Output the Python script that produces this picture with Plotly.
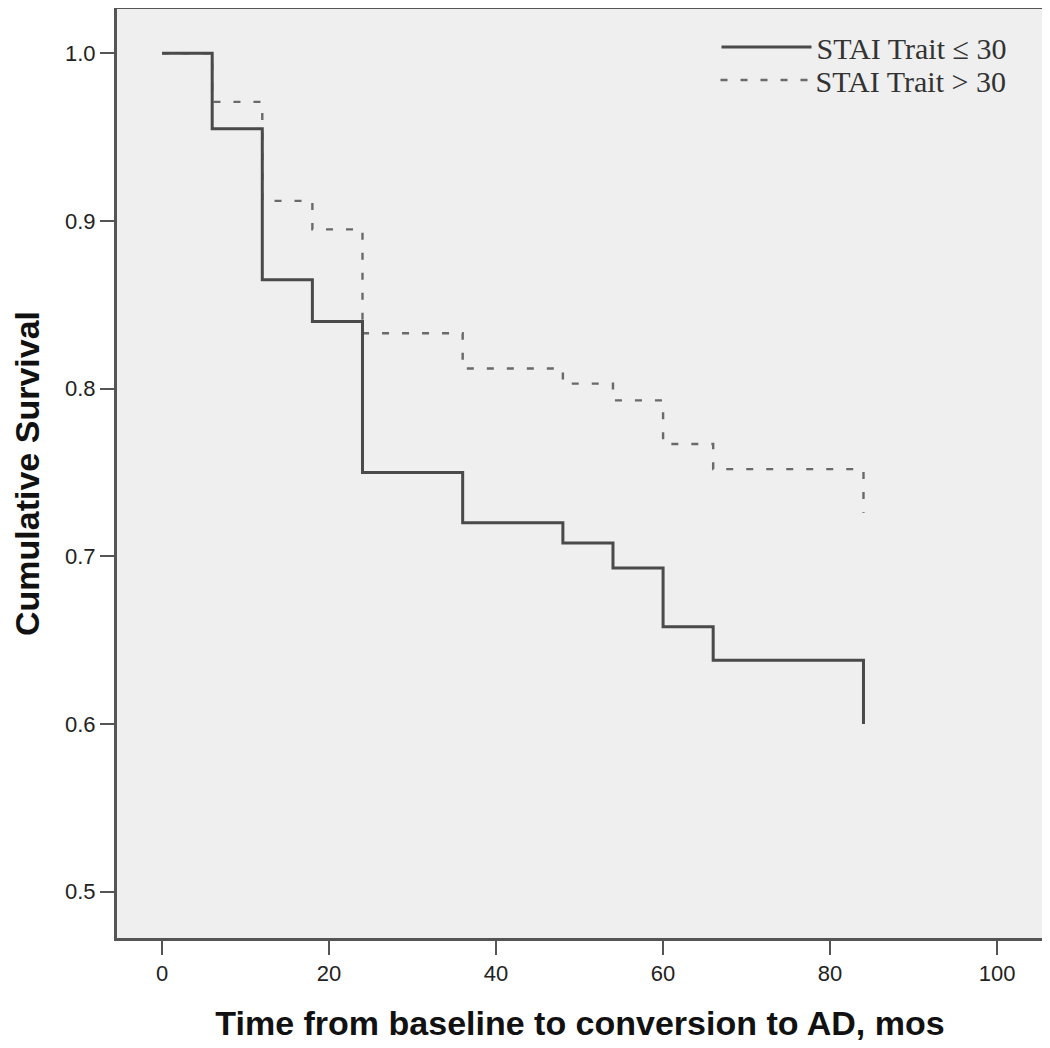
import plotly.graph_objects as go

# ---- data ---------------------------------------------------------------
months_low = [0, 6, 12, 18, 24, 36, 48, 54, 60, 66, 84]
surv_low = [1.0, 0.955, 0.865, 0.84, 0.75, 0.72, 0.708, 0.693, 0.658, 0.638, 0.600]

months_high = [0, 6, 12, 18, 24, 36, 48, 54, 60, 66, 84]
surv_high = [1.0, 0.971, 0.912, 0.895, 0.833, 0.812, 0.803, 0.793, 0.767, 0.752, 0.726]

x_ticks = [0, 20, 40, 60, 80, 100]
y_ticks = [0.5, 0.6, 0.7, 0.8, 0.9, 1.0]

# ---- style ---------------------------------------------------------------
FRAME = "#555555"
SOLID = "#4a4a4a"
DASHED = "#6a6a6a"
BG = "#efefef"
TICK_FONT = dict(family="Liberation Sans, Arial", size=22, color="#222222")
TITLE_FONT = dict(family="Liberation Sans, Arial", size=34, color="#111111")
LEGEND_FONT = dict(family="Liberation Serif, Times New Roman, serif", size=30, color="#333333")

fig = go.Figure()
fig.add_trace(go.Scatter(
    x=months_high, y=surv_high, name="STAI Trait > 30", mode="lines", legend="legend2",
    line=dict(shape="hv", color=DASHED, width=2.4, dash="7px,13px"),
))
fig.add_trace(go.Scatter(
    x=months_low, y=surv_low, name="STAI Trait ≤ 30", mode="lines", legend="legend",
    line=dict(shape="hv", color=SOLID, width=3),
))

# page body has an 8px margin, so the figure is 8px smaller than the window
fig.update_layout(
    width=1042, height=1040,
    margin=dict(l=109, r=7, t=1, b=110),
    paper_bgcolor="white",
    plot_bgcolor=BG,
    showlegend=True,
    legend=dict(x=0.966, y=0.959, xanchor="right", yanchor="middle",
                bgcolor="rgba(0,0,0,0)", font=LEGEND_FONT, itemwidth=90),
    legend2=dict(x=0.966, y=0.9236, xanchor="right", yanchor="middle",
                 bgcolor="rgba(0,0,0,0)", font=LEGEND_FONT, itemwidth=90),
)
fig.update_xaxes(
    range=[-5.4, 105.5], tickvals=x_ticks, ticks="outside", ticklen=14, tickwidth=2,
    tickcolor=FRAME, showgrid=False, zeroline=False, automargin=False,
    showline=True, linecolor=FRAME, linewidth=3, mirror=True,
    tickfont=TICK_FONT,
    title=dict(text="<b>Time from baseline to conversion to AD, mos</b>", font=TITLE_FONT, standoff=26),
)
fig.update_yaxes(
    range=[0.4724, 1.0264], tickvals=y_ticks, tickformat=".1f", ticks="outside", ticklen=14,
    tickwidth=2, tickcolor=FRAME, showgrid=False, zeroline=False, automargin=False,
    showline=True, linecolor=FRAME, linewidth=3, mirror=True,
    tickfont=TICK_FONT,
    title=dict(text="<b>Cumulative Survival</b>", font=TITLE_FONT, standoff=45),
)

fig.write_html("out.html")
